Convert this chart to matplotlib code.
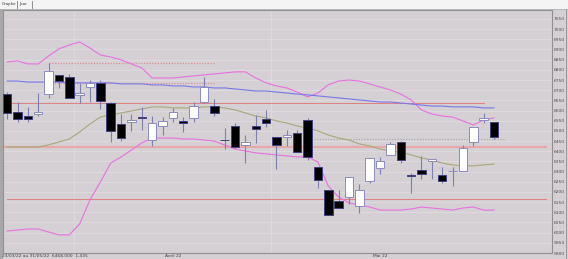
import numpy as np
import matplotlib
matplotlib.use('Agg')
import matplotlib.pyplot as plt
from matplotlib.patches import Rectangle
from matplotlib.lines import Line2D
from matplotlib import transforms

# daily candles 23/03/22 -> 31/05/22 (open, high, low, close)
opens = [6681, 6593, 6573, 6583, 6681, 6775, 6765, 6677, 6716, 6736,
         6637, 6534, 6544, 6566, 6455, 6524, 6564, 6549, 6564, 6642,
         6622, 6457, 6524, 6431, 6524, 6559, 6470, 6470, 6490, 6554,
         6323, 6210, 6156, 6175, 6131, 6254, 6318, 6382, 6446, 6281,
         6308, 6352, 6283, 6302, 6303, 6446, 6554, 6544]
highs = [6691, 6642, 6618, 6686, 6834, 6775, 6780, 6736, 6750, 6750,
         6642, 6583, 6583, 6618, 6573, 6568, 6613, 6568, 6642, 6765,
         6657, 6514, 6539, 6480, 6578, 6603, 6470, 6505, 6505, 6564,
         6323, 6210, 6210, 6274, 6239, 6367, 6372, 6446, 6450, 6293,
         6377, 6362, 6323, 6323, 6431, 6519, 6588, 6544]
lows = [6559, 6544, 6544, 6573, 6662, 6711, 6662, 6637, 6642, 6608,
        6446, 6450, 6500, 6505, 6426, 6480, 6544, 6495, 6544, 6637,
        6573, 6411, 6416, 6342, 6441, 6519, 6313, 6426, 6396, 6357,
        6220, 6087, 6121, 6141, 6097, 6244, 6288, 6382, 6342, 6195,
        6264, 6264, 6244, 6229, 6303, 6426, 6539, 6460]
closes = [6588, 6559, 6559, 6593, 6794, 6745, 6662, 6686, 6736, 6647,
          6500, 6465, 6554, 6562, 6539, 6549, 6593, 6539, 6622, 6716,
          6588, 6453, 6421, 6446, 6509, 6539, 6431, 6480, 6396, 6372,
          6259, 6087, 6121, 6274, 6210, 6367, 6352, 6436, 6357, 6277,
          6288, 6362, 6254, 6305, 6416, 6519, 6564, 6470]

# indicator lines
upper_band = [6839, 6844, 6829, 6829, 6868, 6903, 6922, 6937, 6907, 6873,
              6863, 6849, 6829, 6809, 6760, 6760, 6760, 6765, 6770, 6775,
              6780, 6785, 6790, 6790, 6760, 6736, 6721, 6711, 6691, 6667,
              6686, 6726, 6745, 6750, 6745, 6731, 6716, 6701, 6681, 6652,
              6603, 6583, 6573, 6568, 6549, 6529, 6554, 6564]
middle = [6421, 6421, 6421, 6421, 6431, 6446, 6460, 6495, 6534, 6568,
          6578, 6588, 6598, 6608, 6618, 6618, 6613, 6613, 6613, 6618,
          6618, 6613, 6603, 6588, 6573, 6564, 6549, 6539, 6524, 6514,
          6500, 6480, 6465, 6455, 6436, 6426, 6411, 6401, 6396, 6382,
          6367, 6357, 6342, 6333, 6328, 6328, 6333, 6337]
lower_band = [6008, 6013, 6018, 6018, 6003, 5989, 5989, 6043, 6161, 6249,
              6342, 6372, 6406, 6441, 6465, 6465, 6465, 6460, 6460, 6455,
              6450, 6431, 6411, 6401, 6392, 6387, 6382, 6377, 6372, 6372,
              6347, 6229, 6175, 6146, 6136, 6126, 6111, 6111, 6111, 6116,
              6126, 6121, 6116, 6111, 6121, 6126, 6111, 6111]
long_ma = [6745, 6745, 6740, 6740, 6740, 6740, 6736, 6736, 6736, 6736,
           6736, 6731, 6731, 6731, 6726, 6726, 6721, 6721, 6716, 6716,
           6711, 6711, 6706, 6701, 6696, 6696, 6691, 6686, 6681, 6677,
           6672, 6667, 6662, 6657, 6652, 6647, 6642, 6642, 6637, 6632,
           6627, 6622, 6622, 6618, 6618, 6618, 6613, 6613]

yticks = list(range(5900, 7051, 50))
month_labels = ['Avril 22', 'Mai 22']
month_pos = [16, 36]
month_breaks = [6.5, 25.5]

BG = '#d4d0d4'
GRID = '#dfdbdf'

fig = plt.figure(figsize=(5.68, 2.59), dpi=100, facecolor=BG)
ax = fig.add_axes([3/568, 1 - 253/259, 549/568, 243/259])
ax.set_facecolor(BG)

n = len(opens)
x = np.arange(n)

# grid
for t in yticks:
    ax.axhline(t, color=GRID, lw=0.6, zorder=0)
for b in month_breaks:
    ax.axvline(b, color=GRID, lw=0.6, zorder=0)

# horizontal levels
ax.plot([4, 20], [6834, 6834], color='#e08888', lw=0.8, ls=(0, (1, 1.5)), zorder=1)
ax.plot([4, 20], [6736, 6736], color='#e08888', lw=0.8, ls=(0, (1, 1.5)), zorder=1)
ax.plot([0, 46], [6637, 6637], color='#e08080', lw=0.7, zorder=1)
ax.plot([-0.2, 52], [6421, 6421], color='#e8a8a8', lw=1.5, zorder=1)
ax.plot([28.3, 48], [6460, 6460], color='#a8a8a8', lw=0.8, ls=(0, (1, 1.5)), zorder=1)
ax.plot([0, 52], [6166, 6166], color='#e08080', lw=0.7, zorder=1)

# indicators
ax.plot(x, upper_band, color='#e870e0', lw=0.8, zorder=2)
ax.plot(x, lower_band, color='#e870e0', lw=0.8, zorder=2)
ax.plot(x, middle, color='#a8a878', lw=0.8, zorder=2)
ax.plot(x, long_ma, color='#7878e8', lw=0.8, zorder=2)

# candles
o = np.array(opens); c = np.array(closes)
ax.vlines(x, lows, highs, color='#8080b0', lw=0.8, zorder=3)
up = c >= o
ax.bar(x[up], c[up] - o[up], bottom=o[up], width=0.82,
       color='white', edgecolor='#8c8cc0', lw=0.7, zorder=4)
ax.bar(x[~up], o[~up] - c[~up], bottom=c[~up], width=0.82,
       color='black', edgecolor='#404080', lw=0.7, zorder=4)

ax.set_xlim(-0.4, 52.6)
ax.set_ylim(5900, 7094)
ax.set_xticks([])
ax.yaxis.tick_right()
ax.set_yticks(yticks)
ax.tick_params(axis='y', length=0, pad=1.5, labelsize=3.2, labelcolor='#505050')
for s in ax.spines.values():
    s.set_color('#909090')
    s.set_linewidth(0.8)

trans = transforms.blended_transform_factory(ax.transData, ax.transAxes)
for lab, pos in zip(month_labels, month_pos):
    ax.text(pos, -0.012, lab, transform=trans, ha='center', va='center',
            fontsize=3.2, color='#404040')

# status text and tabs
fig.text(2/568, 1 - 256/259, '23/03/22 au 31/05/22  6468.000  1.435',
         fontsize=3.2, color='#404040', va='center', ha='left')
fig.patches.append(Rectangle((0, 1 - 9/259), 1, 9/259, transform=fig.transFigure,
                             facecolor='#f4f4f4', edgecolor='none', zorder=0))
fig.patches.append(Rectangle((0, 0), 3/568, 1 - 9/259, transform=fig.transFigure,
                             facecolor='#a8a8a8', edgecolor='none', zorder=0))
fig.text(2/568, 1 - 4.5/259, 'Graphe', fontsize=2.8, color='#303030', va='center')
fig.text(19/568, 1 - 4.5/259, 'Jour', fontsize=2.8, color='#303030', va='center')
for sx in [17, 32]:
    fig.lines.append(Line2D([sx/568, sx/568], [1 - 8/259, 1 - 1/259],
                            transform=fig.transFigure, color='#808080', lw=0.6))
fig.lines.append(Line2D([0, 1], [1 - 9/259, 1 - 9/259],
                        transform=fig.transFigure, color='#b0b0b0', lw=0.5))
fig.lines.append(Line2D([566/568, 566/568], [0, 1 - 9/259],
                        transform=fig.transFigure, color='#909090', lw=0.6))

fig.savefig('out.png', dpi=100, facecolor=BG)
